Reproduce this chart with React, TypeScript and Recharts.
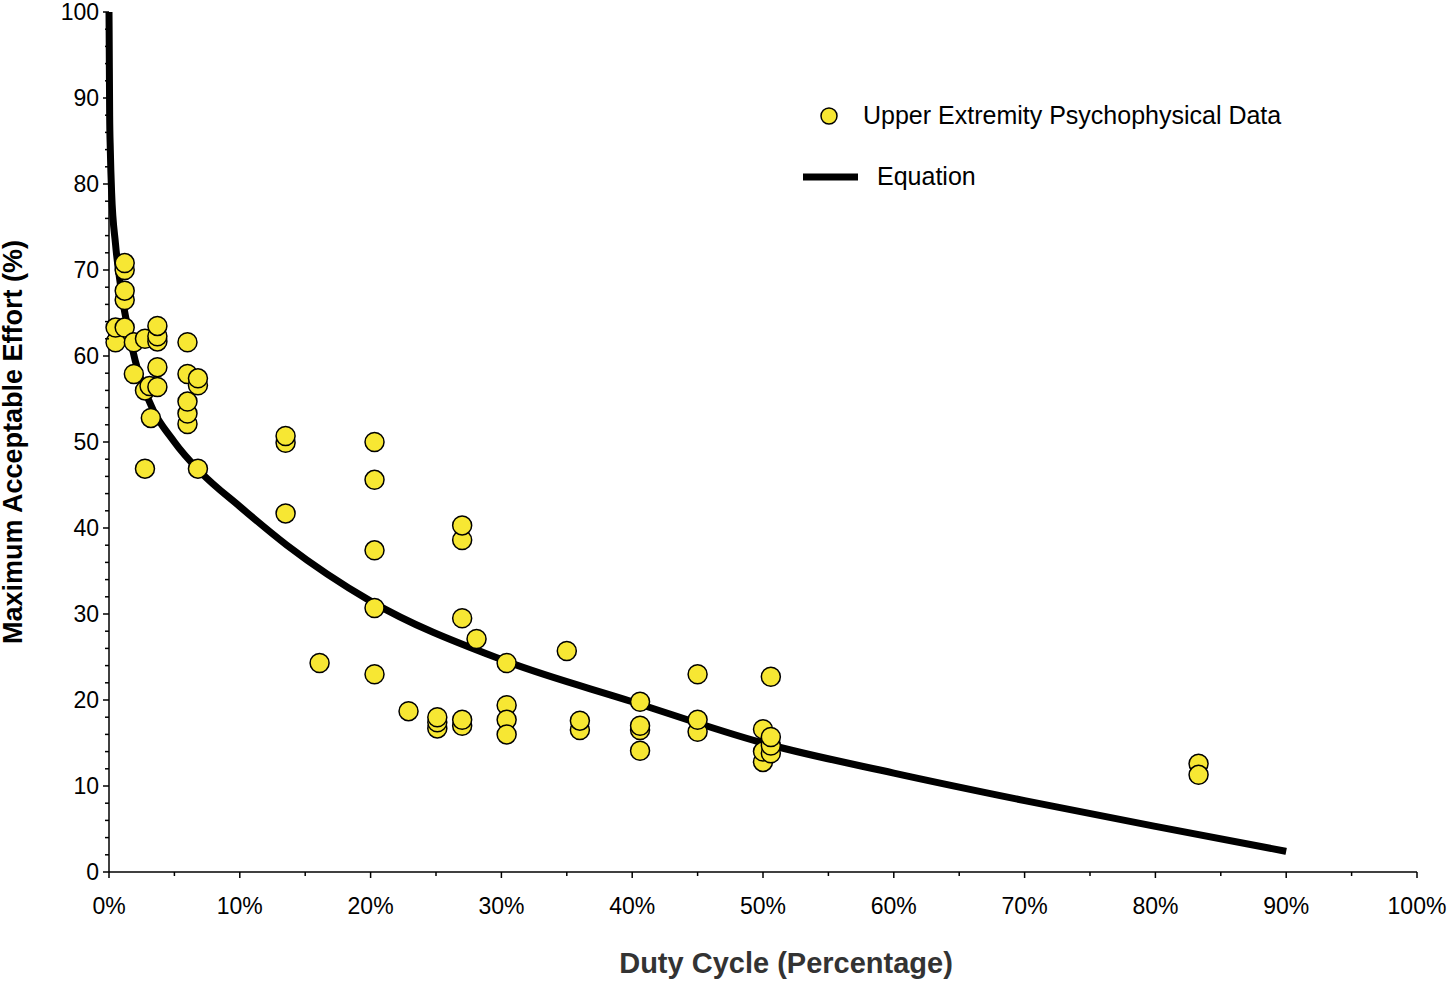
import { ComposedChart, Scatter, Line, XAxis, YAxis } from 'recharts';

const dataX = [0.5, 0.5, 1.2, 1.2, 1.2, 1.2, 1.2, 1.9, 1.9, 2.75, 2.75, 2.75, 3.1, 3.2, 3.7, 3.7, 3.7, 3.7, 3.7,
  6.0, 6.0, 6.0, 6.0, 6.0, 6.8, 6.8, 6.8, 13.5, 13.5, 13.5, 16.1, 20.3, 20.3, 20.3, 20.3, 20.3, 22.9,
  25.1, 25.1, 25.1, 27, 27, 27, 27, 27, 28.1, 30.4, 30.4, 30.4, 30.4, 35, 36, 36, 40.6, 40.6, 40.6, 40.6,
  45, 45, 45, 50, 50, 50, 50.6, 50.6, 50.6, 50.6, 83.3, 83.3];
const dataY = [61.6, 63.3, 70, 70.8, 66.5, 67.6, 63.3, 61.6, 57.9, 62, 56, 46.9, 56.5, 52.8, 61.7, 62.3, 63.5, 58.7, 56.4,
  61.6, 57.9, 52.1, 53.3, 54.7, 56.6, 57.4, 46.9, 49.9, 50.7, 41.7, 24.3, 50, 45.6, 37.4, 30.7, 23, 18.7,
  16.7, 17.4, 18, 38.6, 40.3, 29.5, 17, 17.7, 27.1, 24.3, 19.4, 17.7, 16, 25.7, 16.5, 17.6, 19.8, 16.5, 17, 14.1,
  23, 16.3, 17.7, 16.6, 12.8, 14, 22.7, 13.8, 14.7, 15.7, 12.6, 11.3];

const eqX = [0, 0.01, 0.05, 0.1, 0.2, 0.5, 1, 2, 3, 5, 7, 10, 13.6, 20, 30, 40, 50, 60, 70, 80, 90];
const eqY = [100, 98, 88, 84, 79, 73, 67, 59.5, 55, 50, 46.5, 42.5, 38, 31.5, 24.7, 19.8, 15, 11.5, 8.3, 5.3, 2.4];

const xTicks = Array.from({ length: 21 }, (_, i) => i * 5);
const yTicks = Array.from({ length: 51 }, (_, i) => i * 2);

const points = dataX.map((x, i) => ({ x, y: dataY[i] }));
const equation = eqX.map((x, i) => ({ x, y: eqY[i] }));

const font = 'Liberation Sans, Arial, sans-serif';

const XTick = ({ x, y, payload }: any) => {
  const major = payload.value % 10 === 0;
  return (
    <g>
      <line x1={x} x2={x} y1={y - 8} y2={y - 8 + (major ? 6 : 4)} stroke="#000" strokeWidth={1.5} />
      {major && (
        <text x={x} y={y + 34} textAnchor="middle" fontSize={23} fontFamily={font} fill="#000">
          {payload.value}%
        </text>
      )}
    </g>
  );
};

const YTick = ({ x, y, payload }: any) => {
  const major = payload.value % 10 === 0;
  return (
    <g>
      <line x1={x + 8} x2={x + 8 - (major ? 6 : 4)} y1={y} y2={y} stroke="#000" strokeWidth={1.5} />
      {major && (
        <text x={x - 2} y={y + 8} textAnchor="end" fontSize={23} fontFamily={font} fill="#000">
          {payload.value}
        </text>
      )}
    </g>
  );
};

const Overlay = () => (
  <svg width={1450} height={985} style={{ position: 'absolute', left: 0, top: 0, pointerEvents: 'none' }}>
    <circle cx={829} cy={116} r={8} fill="#f7e733" stroke="#000" strokeWidth={1.5} />
    <text x={863} y={124} fontSize={25} fontFamily={font}>Upper Extremity Psychophysical Data</text>
    <line x1={803} x2={858} y1={177} y2={177} stroke="#000" strokeWidth={7} />
    <text x={877} y={185} fontSize={25} fontFamily={font}>Equation</text>
    <text x={786} y={973} textAnchor="middle" fontSize={29} fontWeight="bold" fontFamily={font} fill="#333">
      Duty Cycle (Percentage)
    </text>
    <text x={0} y={0} transform="translate(22,442) rotate(-90)" textAnchor="middle" fontSize={27} fontWeight="bold" fontFamily={font} fill="#000">
      Maximum Acceptable Effort (%)
    </text>
  </svg>
);

export default function App() {
  return (
    <div style={{ position: 'absolute', left: 0, top: 0, width: 1450, height: 985, background: '#fff' }}>
      <ComposedChart width={1450} height={985} margin={{ top: 12, right: 33, bottom: 0, left: 0 }}>
        <XAxis
          type="number"
          dataKey="x"
          domain={[0, 100]}
          ticks={xTicks}
          interval={0}
          height={113}
          tick={<XTick />}
          tickLine={false}
          axisLine={{ stroke: '#000', strokeWidth: 1.5 }}
        />
        <YAxis
          type="number"
          dataKey="y"
          domain={[0, 100]}
          ticks={yTicks}
          interval={0}
          width={109}
          tick={<YTick />}
          tickLine={false}
          axisLine={{ stroke: '#000', strokeWidth: 1.5 }}
        />
        <Line data={equation} dataKey="y" type="monotone" stroke="#000" strokeWidth={7} dot={false} isAnimationActive={false} />
        <Scatter data={points} dataKey="y" fill="#f7e733" stroke="#000" strokeWidth={1.5} isAnimationActive={false}
          shape={(p: any) => <circle cx={p.cx} cy={p.cy} r={9.5} fill="#f7e733" stroke="#000" strokeWidth={1.5} />} />
      </ComposedChart>
      <Overlay />
    </div>
  );
}
